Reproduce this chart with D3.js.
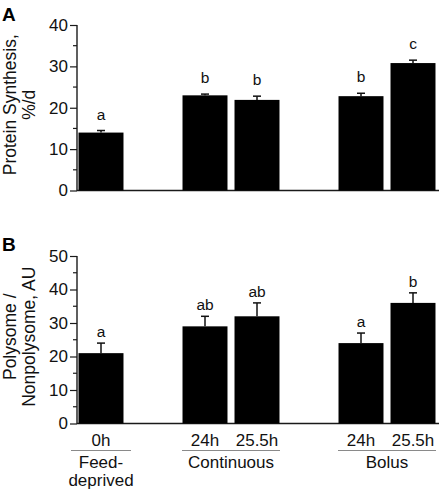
<!DOCTYPE html>
<html>
<head>
<meta charset="utf-8">
<script src="https://cdn.jsdelivr.net/npm/d3@7"></script>
<style>
  html, body { margin: 0; padding: 0; background: #fff; }
  svg { display: block; font-family: "Liberation Sans", Arial, Helvetica, sans-serif; }
</style>
</head>
<body>
<svg id="chart" width="442" height="492"></svg>
<script>
// ---- Data ----
const slots = ["0h", "gap1", "24h C", "25.5h C", "gap2", "24h B", "25.5h B"];
const barKeys = ["0h", "24h C", "25.5h C", "24h B", "25.5h B"];
const barLabels = ["0h", "24h", "25.5h", "24h", "25.5h"];

const synthMean = [14.0, 23.0, 21.9, 22.8, 30.8];
const synthErr = [0.5, 0.3, 0.9, 0.7, 0.7];
const synthLetters = ["a", "b", "b", "b", "c"];
const synthTicks = [0, 10, 20, 30, 40];

const polyMean = [21, 29, 32, 24, 36];
const polyErr = [3, 3, 4, 3, 3];
const polyLetters = ["a", "ab", "ab", "a", "b"];
const polyTicks = [0, 10, 20, 30, 40, 50];

const groupNames = [["Feed-", "deprived"], ["Continuous"], ["Bolus"]];
const groupMembers = [["0h"], ["24h C", "25.5h C"], ["24h B", "25.5h B"]];

// ---- Layout ----
const svg = d3.select("#chart");
const axisX = 77;
const x = d3.scaleBand()
  .domain(slots)
  .range([75, 439])
  .paddingInner(0.135)
  .paddingOuter(0.0675);

const axisColor = "#1a1a1a";

function panel(opts) {
  const { mean, err, letters, ticks, yMax, yTop, yBottom, letterGap, title, label, labelY } = opts;
  const y = d3.scaleLinear().domain([0, yMax]).range([yBottom, yTop]);
  const g = svg.append("g");

  // minor ticks
  const minor = d3.range(5, yMax, 10);
  g.selectAll(".minor").data(minor).join("line")
    .attr("x1", axisX - 4).attr("x2", axisX)
    .attr("y1", d => y(d)).attr("y2", d => y(d))
    .attr("stroke", axisColor).attr("stroke-width", 1.2);

  // major ticks & labels via d3 axis
  const axis = d3.axisLeft(y).tickValues(ticks).tickSize(7).tickPadding(2).tickFormat(d3.format("d"));
  const ag = g.append("g").attr("transform", `translate(${axisX},0)`).call(axis);
  ag.select(".domain").remove();
  ag.selectAll(".tick line").attr("stroke", axisColor).attr("stroke-width", 1.2);
  ag.selectAll(".tick text").attr("fill", "#111").style("font-size", "17px")
    .style("font-family", '"Liberation Sans", Arial, sans-serif');

  // axes lines
  g.append("line").attr("x1", axisX).attr("x2", axisX)
    .attr("y1", y(yMax)).attr("y2", y(0) + 0.6)
    .attr("stroke", axisColor).attr("stroke-width", 1.4);
  g.append("line").attr("x1", axisX).attr("x2", 439)
    .attr("y1", y(0)).attr("y2", y(0))
    .attr("stroke", axisColor).attr("stroke-width", 1.4);

  const data = barKeys.map((k, i) => ({ k, v: mean[i], e: err[i], l: letters[i] }));

  // error bars
  data.forEach(d => {
    const cx = x(d.k) + x.bandwidth() / 2;
    g.append("line").attr("x1", cx).attr("x2", cx)
      .attr("y1", y(d.v)).attr("y2", y(d.v + d.e))
      .attr("stroke", "#111").attr("stroke-width", 1.5);
    g.append("line").attr("x1", cx - 4).attr("x2", cx + 4)
      .attr("y1", y(d.v + d.e)).attr("y2", y(d.v + d.e))
      .attr("stroke", "#111").attr("stroke-width", 1.5);
  });

  // bars
  g.selectAll(".bar").data(data).join("rect")
    .attr("x", d => x(d.k)).attr("width", x.bandwidth())
    .attr("y", d => y(d.v)).attr("height", d => y(0) - y(d.v))
    .attr("fill", "#000");

  // letters
  g.selectAll(".let").data(data).join("text")
    .attr("x", d => x(d.k) + x.bandwidth() / 2)
    .attr("y", d => y(d.v + d.e) - letterGap)
    .attr("text-anchor", "middle").style("font-size", "15.5px").attr("fill", "#111")
    .text(d => d.l);

  // y title
  const cy = (yTop + yBottom) / 2 - 3;
  title.forEach((t, i) => {
    g.append("text")
      .attr("transform", `translate(${16 + i * 19},${cy}) rotate(-90)`)
      .attr("text-anchor", "middle").style("font-size", "17.5px").attr("fill", "#111")
      .text(t);
  });

  // panel label
  g.append("text").attr("x", 2).attr("y", labelY)
    .style("font-size", "19px").style("font-weight", "bold").attr("fill", "#000")
    .text(label);
  return y;
}

panel({
  mean: synthMean, err: synthErr, letters: synthLetters, ticks: synthTicks,
  yMax: 40, yTop: 25, yBottom: 190.5, letterGap: 11,
  title: ["Protein Synthesis,", "%/d"], label: "A", labelY: 21
});

panel({
  mean: polyMean, err: polyErr, letters: polyLetters, ticks: polyTicks,
  yMax: 50, yTop: 256, yBottom: 423.5, letterGap: 6,
  title: ["Polysome /", "Nonpolysome, AU"], label: "B", labelY: 251
});

// ---- bottom category labels ----
const bottom = svg.append("g").style("font-size", "17px").attr("fill", "#111");
barKeys.forEach((k, i) => {
  bottom.append("text")
    .attr("x", x(k) + x.bandwidth() / 2)
    .attr("y", 446)
    .attr("text-anchor", "middle")
    .text(barLabels[i]);
});

groupMembers.forEach((mem, gi) => {
  const first = x(mem[0]);
  const last = x(mem[mem.length - 1]) + x.bandwidth();
  const cx = (first + last) / 2;
  const half = mem.length === 1 ? 30 : 49;
  bottom.append("line")
    .attr("x1", cx - half).attr("x2", cx + half)
    .attr("y1", 450.5).attr("y2", 450.5)
    .attr("stroke", "#8a8a8a").attr("stroke-width", 1);
  groupNames[gi].forEach((t, li) => {
    bottom.append("text")
      .attr("x", cx).attr("y", 468 + li * 18)
      .attr("text-anchor", "middle")
      .text(t);
  });
});
</script>
</body>
</html>
